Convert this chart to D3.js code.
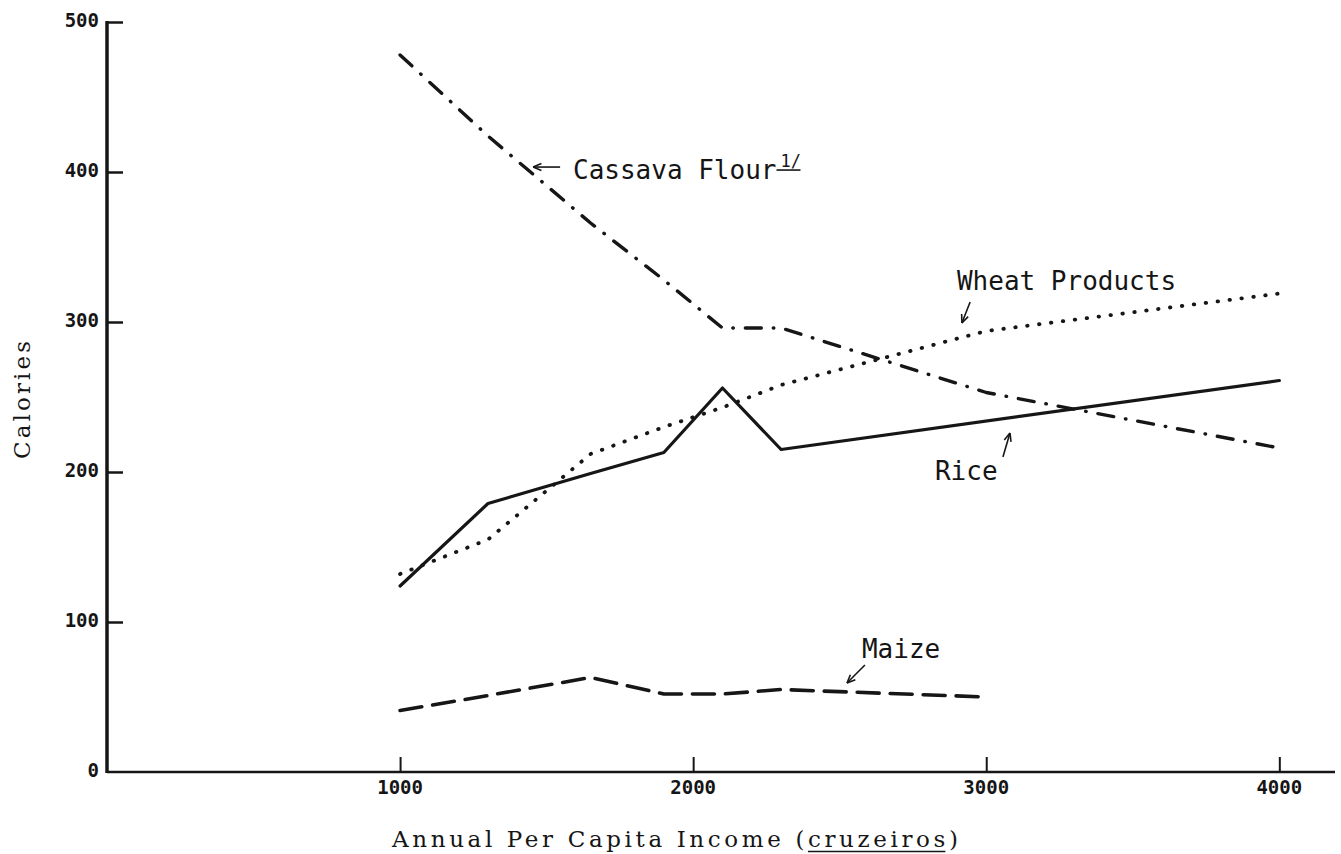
<!DOCTYPE html>
<html>
<head>
<meta charset="utf-8">
<script src="https://cdn.jsdelivr.net/npm/d3@7"></script>
<style>
  body { margin: 0; background: #fff; }
  .tick-label { font-family: "DejaVu Sans Mono", monospace; font-size: 19px; font-weight: bold; fill: #151515; }
  .note { font-family: "DejaVu Sans Mono", monospace; font-size: 26px; fill: #151515; }
  .title { font-family: "DejaVu Serif", serif; font-size: 23px; fill: #151515; }
</style>
</head>
<body>
<svg width="1341" height="854"></svg>
<script>
//Values (income in cruzeiros, calories per capita)
let cassavaIncome = [1000, 1300, 1650, 1900, 2100, 2300, 3000, 4000];
let cassavaCal    = [478, 424, 366, 328, 296, 296, 253, 216];
let wheatIncome   = [1000, 1300, 1650, 1900, 2100, 2300, 3000, 4000];
let wheatCal      = [132, 155, 212, 230, 243, 258, 294, 319];
let riceIncome    = [1000, 1300, 1650, 1900, 2100, 2300, 4000];
let riceCal       = [124, 179, 199, 213, 256, 215, 261];
let maizeIncome   = [1000, 1300, 1650, 1900, 2100, 2300, 3000];
let maizeCal      = [41, 51, 63, 52, 52, 55, 50];

let xTicks = [1000, 2000, 3000, 4000];
let yTicks = [0, 100, 200, 300, 400, 500];

//Labels and their arrows, placed in data units
let labelNames  = ["Cassava Flour", "Wheat Products", "Rice", "Maize"];
let labelIncome = [1590, 2900, 2825, 2576];
let labelCal    = [395.3, 321.3, 194.7, 76];
let arrowFrom   = [[1546, 403.3], [2945, 313.3], [3057, 210], [2586, 71.3]];
let arrowTo     = [[1454, 403.3], [2917, 299.3], [3081, 226], [2525, 59.3]];

let svg = d3.select("svg");
let ink = "#161616";

let x = d3.scaleLinear().domain([0, 4190]).range([107, 1335]);
let y = d3.scaleLinear().domain([0, 500]).range([772, 22]);

//Axes drawn by d3 axes (ticks point inward)
let yAxis = d3.axisRight(y).tickValues(yTicks.filter(d => d > 0)).tickSize(16).tickFormat("");
let xAxis = d3.axisTop(x).tickValues(xTicks).tickSize(15).tickFormat("");

let gy = svg.append("g").attr("transform", "translate(" + x(0) + ",0)").call(yAxis);
gy.select(".domain").remove();
gy.selectAll("line").attr("stroke", ink).attr("stroke-width", 2.5);

let gx = svg.append("g").attr("transform", "translate(0," + y(0) + ")").call(xAxis);
gx.select(".domain").remove();
gx.selectAll("line").attr("stroke", ink).attr("stroke-width", 2);

//Axis lines
svg.append("line")
   .attr("x1", x(0)).attr("x2", x(0))
   .attr("y1", y(500) - 1).attr("y2", y(0) + 1)
   .attr("stroke", ink).attr("stroke-width", 3.5);
svg.append("line")
   .attr("x1", x(0)).attr("x2", x.range()[1])
   .attr("y1", y(0)).attr("y2", y(0))
   .attr("stroke", ink).attr("stroke-width", 2.5);

//Tick labels
svg.selectAll(".ylab").data(yTicks).enter().append("text")
   .attr("class", "tick-label")
   .attr("x", x(0) - 8)
   .attr("y", d => y(d) + 5)
   .attr("text-anchor", "end")
   .text(d => d);

svg.selectAll(".xlab").data(xTicks).enter().append("text")
   .attr("class", "tick-label")
   .attr("x", d => x(d))
   .attr("y", y(0) + 22)
   .attr("text-anchor", "middle")
   .text(d => d);

//Series lines
function drawSeries(incomes, cals, dash, width){
  let pts = incomes.map((d, i) => [d, cals[i]]);
  let line = d3.line().x(d => x(d[0])).y(d => y(d[1]));
  svg.append("path")
     .attr("d", line(pts))
     .attr("fill", "none")
     .attr("stroke", ink)
     .attr("stroke-width", width)
     .attr("stroke-linecap", "round")
     .attr("stroke-linejoin", "round")
     .attr("stroke-dasharray", dash);
}
drawSeries(cassavaIncome, cassavaCal, "16,12,0.5,12", 3.4);
drawSeries(wheatIncome, wheatCal, "0.5,11.5", 3.8);
drawSeries(riceIncome, riceCal, null, 3.2);
drawSeries(maizeIncome, maizeCal, "22,11", 3.6);

//Labels
let notes = svg.selectAll(".note").data(labelNames).enter().append("text")
   .attr("class", "note")
   .attr("x", (d, i) => x(labelIncome[i]))
   .attr("y", (d, i) => y(labelCal[i]))
   .text(d => d);

//Footnote mark after "Cassava Flour"
let cassBox = notes.filter((d, i) => i == 0).node().getBBox();
let fx = cassBox.x + cassBox.width + 2;
svg.append("text")
   .attr("class", "note")
   .attr("x", fx + 2)
   .attr("y", y(labelCal[0]) - 12)
   .style("font-size", "17px")
   .text("1/");
svg.append("line")
   .attr("x1", fx - 2).attr("x2", fx + 22)
   .attr("y1", y(labelCal[0]) - 9).attr("y2", y(labelCal[0]) - 9)
   .attr("stroke", ink).attr("stroke-width", 1.6);

//Arrows with open heads
arrowFrom.forEach(function(a, i){
  let b = arrowTo[i];
  let x1 = x(a[0]), y1 = y(a[1]), x2 = x(b[0]), y2 = y(b[1]);
  svg.append("line")
     .attr("x1", x1).attr("y1", y1).attr("x2", x2).attr("y2", y2)
     .attr("stroke", ink).attr("stroke-width", 1.6);
  let ang = Math.atan2(y1 - y2, x1 - x2);
  [-0.4, 0.4].forEach(function(off){
    svg.append("line")
       .attr("x1", x2).attr("y1", y2)
       .attr("x2", x2 + 9 * Math.cos(ang + off))
       .attr("y2", y2 + 9 * Math.sin(ang + off))
       .attr("stroke", ink).attr("stroke-width", 1.6);
  });
});

//Axis titles
let prefix = "Annual Per Capita Income (";
let unit = "cruzeiros";
let xt = svg.append("text")
   .attr("class", "title")
   .attr("x", 392)
   .attr("y", 847)
   .attr("textLength", 566)
   .attr("lengthAdjust", "spacing")
   .text(prefix + unit + ")");

//Underline the unit with one continuous stroke
let first = xt.node().getExtentOfChar(prefix.length);
let last = xt.node().getExtentOfChar(prefix.length + unit.length - 1);
svg.append("line")
   .attr("x1", first.x).attr("x2", last.x + last.width)
   .attr("y1", 851.5).attr("y2", 851.5)
   .attr("stroke", ink).attr("stroke-width", 1.5);

svg.append("text")
   .attr("class", "title")
   .attr("transform", "translate(30,400) rotate(-90)")
   .attr("text-anchor", "middle")
   .attr("textLength", 118)
   .attr("lengthAdjust", "spacing")
   .text("Calories");
</script>
</body>
</html>
